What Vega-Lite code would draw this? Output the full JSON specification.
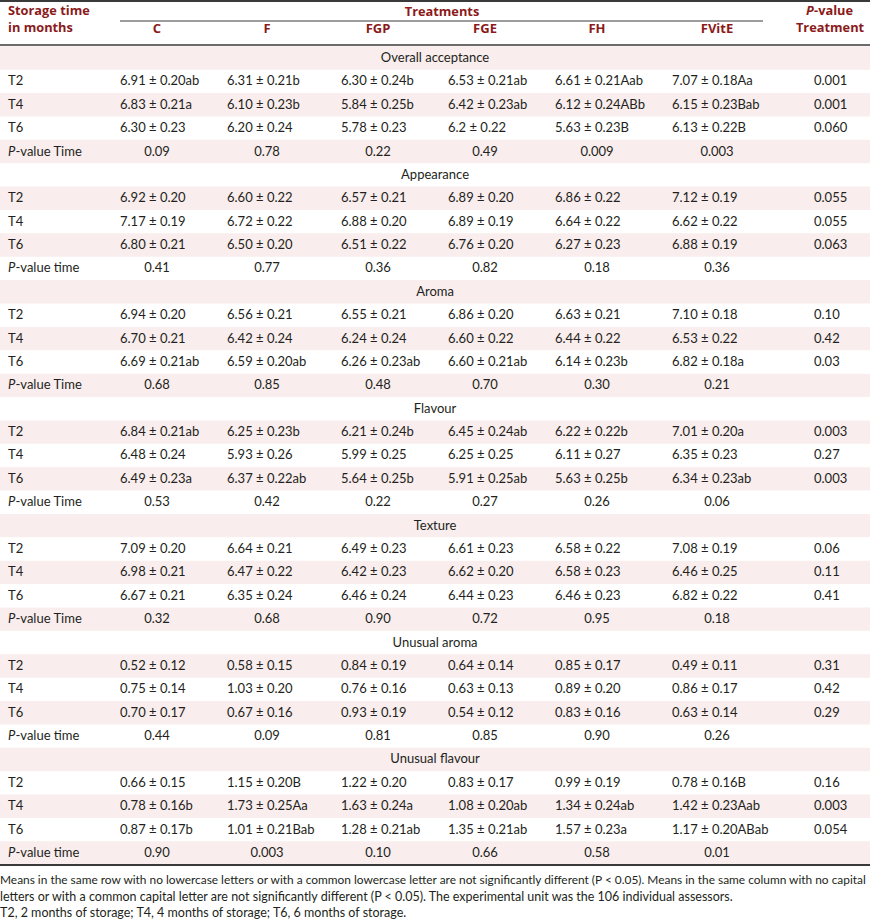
{
  "$schema": "https://vega.github.io/schema/vega-lite/v6.json",
  "width": 870,
  "height": 923,
  "padding": 0,
  "autosize": {"type": "none"},
  "background": "white",
  "config": {"view": {"stroke": null}, "text": {"font": "Lato", "fontSize": 13, "color": "#231f20"}},
  "datasets": {
    "cols": [{"key": "C", "ci": 2}, {"key": "F", "ci": 3}, {"key": "FGP", "ci": 4}, {"key": "FGE", "ci": 5}, {"key": "FH", "ci": 6}, {"key": "FVitE", "ci": 7}, {"key": "PT", "ci": 8}],
    "head": [{"ci": 2, "t": "C"}, {"ci": 3, "t": "F"}, {"ci": 4, "t": "FGP"}, {"ci": 5, "t": "FGE"}, {"ci": 6, "t": "FH"}, {"ci": 7, "t": "FVitE"}],
    "tbl": [
      {"r": 0, "kind": "s", "label": "Overall acceptance"},
      {"r": 1, "kind": "t", "label": "T2", "C": "6.91 ± 0.20ab", "F": "6.31 ± 0.21b", "FGP": "6.30 ± 0.24b", "FGE": "6.53 ± 0.21ab", "FH": "6.61 ± 0.21Aab", "FVitE": "7.07 ± 0.18Aa", "PT": "0.001"},
      {"r": 2, "kind": "t", "label": "T4", "C": "6.83 ± 0.21a", "F": "6.10 ± 0.23b", "FGP": "5.84 ± 0.25b", "FGE": "6.42 ± 0.23ab", "FH": "6.12 ± 0.24ABb", "FVitE": "6.15 ± 0.23Bab", "PT": "0.001"},
      {"r": 3, "kind": "t", "label": "T6", "C": "6.30 ± 0.23", "F": "6.20 ± 0.24", "FGP": "5.78 ± 0.23", "FGE": "6.2 ± 0.22", "FH": "5.63 ± 0.23B", "FVitE": "6.13 ± 0.22B", "PT": "0.060"},
      {"r": 4, "kind": "p", "label": "-value Time", "C": "0.09", "F": "0.78", "FGP": "0.22", "FGE": "0.49", "FH": "0.009", "FVitE": "0.003"},
      {"r": 5, "kind": "s", "label": "Appearance"},
      {"r": 6, "kind": "t", "label": "T2", "C": "6.92 ± 0.20", "F": "6.60 ± 0.22", "FGP": "6.57 ± 0.21", "FGE": "6.89 ± 0.20", "FH": "6.86 ± 0.22", "FVitE": "7.12 ± 0.19", "PT": "0.055"},
      {"r": 7, "kind": "t", "label": "T4", "C": "7.17 ± 0.19", "F": "6.72 ± 0.22", "FGP": "6.88 ± 0.20", "FGE": "6.89 ± 0.19", "FH": "6.64 ± 0.22", "FVitE": "6.62 ± 0.22", "PT": "0.055"},
      {"r": 8, "kind": "t", "label": "T6", "C": "6.80 ± 0.21", "F": "6.50 ± 0.20", "FGP": "6.51 ± 0.22", "FGE": "6.76 ± 0.20", "FH": "6.27 ± 0.23", "FVitE": "6.88 ± 0.19", "PT": "0.063"},
      {"r": 9, "kind": "p", "label": "-value time", "C": "0.41", "F": "0.77", "FGP": "0.36", "FGE": "0.82", "FH": "0.18", "FVitE": "0.36"},
      {"r": 10, "kind": "s", "label": "Aroma"},
      {"r": 11, "kind": "t", "label": "T2", "C": "6.94 ± 0.20", "F": "6.56 ± 0.21", "FGP": "6.55 ± 0.21", "FGE": "6.86 ± 0.20", "FH": "6.63 ± 0.21", "FVitE": "7.10 ± 0.18", "PT": "0.10"},
      {"r": 12, "kind": "t", "label": "T4", "C": "6.70 ± 0.21", "F": "6.42 ± 0.24", "FGP": "6.24 ± 0.24", "FGE": "6.60 ± 0.22", "FH": "6.44 ± 0.22", "FVitE": "6.53 ± 0.22", "PT": "0.42"},
      {"r": 13, "kind": "t", "label": "T6", "C": "6.69 ± 0.21ab", "F": "6.59 ± 0.20ab", "FGP": "6.26 ± 0.23ab", "FGE": "6.60 ± 0.21ab", "FH": "6.14 ± 0.23b", "FVitE": "6.82 ± 0.18a", "PT": "0.03"},
      {"r": 14, "kind": "p", "label": "-value Time", "C": "0.68", "F": "0.85", "FGP": "0.48", "FGE": "0.70", "FH": "0.30", "FVitE": "0.21"},
      {"r": 15, "kind": "s", "label": "Flavour"},
      {"r": 16, "kind": "t", "label": "T2", "C": "6.84 ± 0.21ab", "F": "6.25 ± 0.23b", "FGP": "6.21 ± 0.24b", "FGE": "6.45 ± 0.24ab", "FH": "6.22 ± 0.22b", "FVitE": "7.01 ± 0.20a", "PT": "0.003"},
      {"r": 17, "kind": "t", "label": "T4", "C": "6.48 ± 0.24", "F": "5.93 ± 0.26", "FGP": "5.99 ± 0.25", "FGE": "6.25 ± 0.25", "FH": "6.11 ± 0.27", "FVitE": "6.35 ± 0.23", "PT": "0.27"},
      {"r": 18, "kind": "t", "label": "T6", "C": "6.49 ± 0.23a", "F": "6.37 ± 0.22ab", "FGP": "5.64 ± 0.25b", "FGE": "5.91 ± 0.25ab", "FH": "5.63 ± 0.25b", "FVitE": "6.34 ± 0.23ab", "PT": "0.003"},
      {"r": 19, "kind": "p", "label": "-value Time", "C": "0.53", "F": "0.42", "FGP": "0.22", "FGE": "0.27", "FH": "0.26", "FVitE": "0.06"},
      {"r": 20, "kind": "s", "label": "Texture"},
      {"r": 21, "kind": "t", "label": "T2", "C": "7.09 ± 0.20", "F": "6.64 ± 0.21", "FGP": "6.49 ± 0.23", "FGE": "6.61 ± 0.23", "FH": "6.58 ± 0.22", "FVitE": "7.08 ± 0.19", "PT": "0.06"},
      {"r": 22, "kind": "t", "label": "T4", "C": "6.98 ± 0.21", "F": "6.47 ± 0.22", "FGP": "6.42 ± 0.23", "FGE": "6.62 ± 0.20", "FH": "6.58 ± 0.23", "FVitE": "6.46 ± 0.25", "PT": "0.11"},
      {"r": 23, "kind": "t", "label": "T6", "C": "6.67 ± 0.21", "F": "6.35 ± 0.24", "FGP": "6.46 ± 0.24", "FGE": "6.44 ± 0.23", "FH": "6.46 ± 0.23", "FVitE": "6.82 ± 0.22", "PT": "0.41"},
      {"r": 24, "kind": "p", "label": "-value Time", "C": "0.32", "F": "0.68", "FGP": "0.90", "FGE": "0.72", "FH": "0.95", "FVitE": "0.18"},
      {"r": 25, "kind": "s", "label": "Unusual aroma"},
      {"r": 26, "kind": "t", "label": "T2", "C": "0.52 ± 0.12", "F": "0.58 ± 0.15", "FGP": "0.84 ± 0.19", "FGE": "0.64 ± 0.14", "FH": "0.85 ± 0.17", "FVitE": "0.49 ± 0.11", "PT": "0.31"},
      {"r": 27, "kind": "t", "label": "T4", "C": "0.75 ± 0.14", "F": "1.03 ± 0.20", "FGP": "0.76 ± 0.16", "FGE": "0.63 ± 0.13", "FH": "0.89 ± 0.20", "FVitE": "0.86 ± 0.17", "PT": "0.42"},
      {"r": 28, "kind": "t", "label": "T6", "C": "0.70 ± 0.17", "F": "0.67 ± 0.16", "FGP": "0.93 ± 0.19", "FGE": "0.54 ± 0.12", "FH": "0.83 ± 0.16", "FVitE": "0.63 ± 0.14", "PT": "0.29"},
      {"r": 29, "kind": "p", "label": "-value time", "C": "0.44", "F": "0.09", "FGP": "0.81", "FGE": "0.85", "FH": "0.90", "FVitE": "0.26"},
      {"r": 30, "kind": "s", "label": "Unusual flavour"},
      {"r": 31, "kind": "t", "label": "T2", "C": "0.66 ± 0.15", "F": "1.15 ± 0.20B", "FGP": "1.22 ± 0.20", "FGE": "0.83 ± 0.17", "FH": "0.99 ± 0.19", "FVitE": "0.78 ± 0.16B", "PT": "0.16"},
      {"r": 32, "kind": "t", "label": "T4", "C": "0.78 ± 0.16b", "F": "1.73 ± 0.25Aa", "FGP": "1.63 ± 0.24a", "FGE": "1.08 ± 0.20ab", "FH": "1.34 ± 0.24ab", "FVitE": "1.42 ± 0.23Aab", "PT": "0.003"},
      {"r": 33, "kind": "t", "label": "T6", "C": "0.87 ± 0.17b", "F": "1.01 ± 0.21Bab", "FGP": "1.28 ± 0.21ab", "FGE": "1.35 ± 0.21ab", "FH": "1.57 ± 0.23a", "FVitE": "1.17 ± 0.20ABab", "PT": "0.054"},
      {"r": 34, "kind": "p", "label": "-value time", "C": "0.90", "F": "0.003", "FGP": "0.10", "FGE": "0.66", "FH": "0.58", "FVitE": "0.01"}
    ],
    "notes": [
      {"n": 1, "line": 35.155, "t": "Means in the same row with no lowercase letters or with a common lowercase letter are not significantly different (P < 0.05). Means in the same column with no capital"},
      {"n": 2, "line": 35.882, "t": "letters or with a common capital letter are not significantly different (P < 0.05). The experimental unit was the 106 individual assessors."},
      {"n": 3, "line": 36.566, "t": "T2, 2 months of storage; T4, 4 months of storage; T6, 6 months of storage."}
    ]
  },
  "resolve": {"scale": {"x": "independent"}},
  "layer": [
    {
      "data": {"name": "tbl"},
      "transform": [{"filter": "datum.r % 2 == 0"}],
      "mark": {"type": "rule", "color": "#f9eded", "strokeWidth": 23.4, "strokeCap": "butt"},
      "encoding": {
        "y": {"field": "r", "type": "quantitative", "axis": null, "scale": {"domain": [-2.4805, 36.994], "nice": false, "zero": false, "reverse": true}},
        "x": {"datum": 0, "type": "quantitative", "axis": null, "scale": {"domain": [0, 1, 2, 3, 4, 5, 6, 7, 8, 9], "range": [0, 8, 120, 227, 341, 448, 555, 672, 814, 870], "nice": false, "zero": false}},
        "x2": {"datum": 9}
      }
    },
    {
      "data": {"values": [{"y": -2.44, "a": 0, "b": 9, "w": 2}, {"y": -0.556, "a": 0, "b": 9, "w": 1.4}, {"y": 34.514, "a": 0, "b": 9, "w": 2}, {"y": -1.582, "a": 2, "b": 7.641, "w": 1}]},
      "mark": {"type": "rule", "color": "#3a3a3a"},
      "encoding": {
        "y": {"field": "y", "type": "quantitative", "axis": null, "scale": {"domain": [-2.4805, 36.994], "nice": false, "zero": false, "reverse": true}},
        "x": {"field": "a", "type": "quantitative", "axis": null, "scale": {"domain": [0, 1, 2, 3, 4, 5, 6, 7, 8, 9], "range": [0, 8, 120, 227, 341, 448, 555, 672, 814, 870], "nice": false, "zero": false}},
        "x2": {"field": "b"},
        "strokeWidth": {"field": "w", "type": "quantitative", "scale": null, "legend": null}
      }
    },
    {
      "data": {"name": "tbl"},
      "transform": [{"filter": "datum.kind == 't'"}],
      "mark": {"type": "text", "align": "left"},
      "encoding": {
        "y": {"field": "r", "type": "quantitative", "axis": null, "scale": {"domain": [-2.4805, 36.994], "nice": false, "zero": false, "reverse": true}},
        "x": {"datum": 1, "type": "quantitative", "axis": null, "scale": {"domain": [0, 1, 2, 3, 4, 5, 6, 7, 8, 9], "range": [0, 8, 120, 227, 341, 448, 555, 672, 814, 870], "nice": false, "zero": false}},
        "text": {"field": "label"}
      }
    },
    {
      "data": {"name": "tbl"},
      "transform": [{"filter": "datum.kind == 'p'"}],
      "mark": {"type": "text", "align": "left", "fontStyle": "italic"},
      "encoding": {
        "y": {"field": "r", "type": "quantitative", "axis": null, "scale": {"domain": [-2.4805, 36.994], "nice": false, "zero": false, "reverse": true}},
        "x": {"datum": 1, "type": "quantitative", "axis": null, "scale": {"domain": [0, 1, 2, 3, 4, 5, 6, 7, 8, 9], "range": [0, 8, 120, 227, 341, 448, 555, 672, 814, 870], "nice": false, "zero": false}},
        "text": {"value": "P"}
      }
    },
    {
      "data": {"name": "tbl"},
      "transform": [{"filter": "datum.kind == 'p'"}],
      "mark": {"type": "text", "align": "left", "dx": 7.5},
      "encoding": {
        "y": {"field": "r", "type": "quantitative", "axis": null, "scale": {"domain": [-2.4805, 36.994], "nice": false, "zero": false, "reverse": true}},
        "x": {"datum": 1, "type": "quantitative", "axis": null, "scale": {"domain": [0, 1, 2, 3, 4, 5, 6, 7, 8, 9], "range": [0, 8, 120, 227, 341, 448, 555, 672, 814, 870], "nice": false, "zero": false}},
        "text": {"field": "label"}
      }
    },
    {
      "data": {"name": "tbl"},
      "transform": [{"filter": "datum.kind == 's'"}],
      "mark": {"type": "text", "align": "center"},
      "encoding": {
        "y": {"field": "r", "type": "quantitative", "axis": null, "scale": {"domain": [-2.4805, 36.994], "nice": false, "zero": false, "reverse": true}},
        "x": {"datum": 4.879, "type": "quantitative", "axis": null, "scale": {"domain": [0, 1, 2, 3, 4, 5, 6, 7, 8, 9], "range": [0, 8, 120, 227, 341, 448, 555, 672, 814, 870], "nice": false, "zero": false}},
        "text": {"field": "label"}
      }
    },
    {
      "data": {"name": "tbl"},
      "transform": [
        {"filter": "datum.kind == 't'"},
        {"fold": ["C", "F", "FGP", "FGE", "FH", "FVitE", "PT"], "as": ["key", "t"]},
        {"filter": "isValid(datum.t)"},
        {"lookup": "key", "from": {"data": {"name": "cols"}, "key": "key", "fields": ["ci"]}}
      ],
      "mark": {"type": "text", "align": "left"},
      "encoding": {
        "y": {"field": "r", "type": "quantitative", "axis": null, "scale": {"domain": [-2.4805, 36.994], "nice": false, "zero": false, "reverse": true}},
        "x": {"field": "ci", "type": "quantitative", "axis": null, "scale": {"domain": [0, 1, 2, 3, 4, 5, 6, 7, 8, 9], "range": [0, 8, 120, 227, 341, 448, 555, 672, 814, 870], "nice": false, "zero": false}},
        "text": {"field": "t"}
      }
    },
    {
      "data": {"name": "tbl"},
      "transform": [
        {"filter": "datum.kind == 'p'"},
        {"fold": ["C", "F", "FGP", "FGE", "FH", "FVitE"], "as": ["key", "t"]},
        {"filter": "isValid(datum.t)"},
        {"lookup": "key", "from": {"data": {"name": "cols"}, "key": "key", "fields": ["ci"]}}
      ],
      "mark": {"type": "text", "align": "center"},
      "encoding": {
        "y": {"field": "r", "type": "quantitative", "axis": null, "scale": {"domain": [-2.4805, 36.994], "nice": false, "zero": false, "reverse": true}},
        "x": {"field": "ci", "type": "quantitative", "axis": null, "scale": {"domain": [2, 3, 4, 5, 6, 7], "range": [157, 267, 378, 485, 597, 717], "nice": false, "zero": false}},
        "text": {"field": "t"}
      }
    },
    {
      "data": {"name": "head"},
      "mark": {"type": "text", "align": "center", "font": "Open Sans", "fontWeight": "bold", "fontSize": 13, "color": "#8b1a1a"},
      "encoding": {
        "y": {"datum": -1.24, "type": "quantitative", "axis": null, "scale": {"domain": [-2.4805, 36.994], "nice": false, "zero": false, "reverse": true}},
        "x": {"field": "ci", "type": "quantitative", "axis": null, "scale": {"domain": [2, 3, 4, 5, 6, 7], "range": [157, 267, 378, 485, 597, 717], "nice": false, "zero": false}},
        "text": {"field": "t"}
      }
    },
    {
      "data": {"values": [
        {"t": "Storage time", "px": 1, "py": -2.0, "al": "l"},
        {"t": "in months", "px": 1, "py": -1.262, "al": "l"},
        {"t": "Treatments", "px": 4.944, "py": -1.967, "al": "c"},
        {"t": "Treatment", "px": 8.286, "py": -1.262, "al": "c"},
        {"t": "-value", "px": 7.944, "py": -2.0, "al": "v"},
        {"t": "P", "px": 7.944, "py": -2.0, "al": "p"}
      ]},
      "layer": [
        {
          "transform": [{"filter": "datum.al == 'l'"}],
          "mark": {"type": "text", "align": "left", "font": "Open Sans", "fontWeight": "bold", "fontSize": 12.8, "color": "#8b1a1a"},
          "encoding": {
            "y": {"field": "py", "type": "quantitative", "axis": null, "scale": {"domain": [-2.4805, 36.994], "nice": false, "zero": false, "reverse": true}},
            "x": {"field": "px", "type": "quantitative", "axis": null, "scale": {"domain": [0, 1, 2, 3, 4, 5, 6, 7, 8, 9], "range": [0, 8, 120, 227, 341, 448, 555, 672, 814, 870], "nice": false, "zero": false}},
            "text": {"field": "t"}
          }
        },
        {
          "transform": [{"filter": "datum.al == 'c'"}],
          "mark": {"type": "text", "align": "center", "font": "Open Sans", "fontWeight": "bold", "fontSize": 12.8, "color": "#8b1a1a"},
          "encoding": {
            "y": {"field": "py", "type": "quantitative", "axis": null, "scale": {"domain": [-2.4805, 36.994], "nice": false, "zero": false, "reverse": true}},
            "x": {"field": "px", "type": "quantitative", "axis": null, "scale": {"domain": [0, 1, 2, 3, 4, 5, 6, 7, 8, 9], "range": [0, 8, 120, 227, 341, 448, 555, 672, 814, 870], "nice": false, "zero": false}},
            "text": {"field": "t"}
          }
        },
        {
          "transform": [{"filter": "datum.al == 'p'"}],
          "mark": {"type": "text", "align": "left", "font": "Open Sans", "fontWeight": "bold", "fontStyle": "italic", "fontSize": 12.8, "color": "#8b1a1a"},
          "encoding": {
            "y": {"field": "py", "type": "quantitative", "axis": null, "scale": {"domain": [-2.4805, 36.994], "nice": false, "zero": false, "reverse": true}},
            "x": {"field": "px", "type": "quantitative", "axis": null, "scale": {"domain": [0, 1, 2, 3, 4, 5, 6, 7, 8, 9], "range": [0, 8, 120, 227, 341, 448, 555, 672, 814, 870], "nice": false, "zero": false}},
            "text": {"field": "t"}
          }
        },
        {
          "transform": [{"filter": "datum.al == 'v'"}],
          "mark": {"type": "text", "align": "left", "dx": 8, "font": "Open Sans", "fontWeight": "bold", "fontSize": 12.8, "color": "#8b1a1a"},
          "encoding": {
            "y": {"field": "py", "type": "quantitative", "axis": null, "scale": {"domain": [-2.4805, 36.994], "nice": false, "zero": false, "reverse": true}},
            "x": {"field": "px", "type": "quantitative", "axis": null, "scale": {"domain": [0, 1, 2, 3, 4, 5, 6, 7, 8, 9], "range": [0, 8, 120, 227, 341, 448, 555, 672, 814, 870], "nice": false, "zero": false}},
            "text": {"field": "t"}
          }
        }
      ]
    },
    {
      "data": {"name": "notes"},
      "transform": [{"filter": "datum.n == 1"}],
      "mark": {"type": "text", "align": "left", "fontSize": 11.9},
      "encoding": {
        "y": {"field": "line", "type": "quantitative", "axis": null, "scale": {"domain": [-2.4805, 36.994], "nice": false, "zero": false, "reverse": true}},
        "x": {"datum": 0, "type": "quantitative", "axis": null, "scale": {"domain": [0, 1, 2, 3, 4, 5, 6, 7, 8, 9], "range": [0, 8, 120, 227, 341, 448, 555, 672, 814, 870], "nice": false, "zero": false}},
        "text": {"field": "t"}
      }
    },
    {
      "data": {"name": "notes"},
      "transform": [{"filter": "datum.n > 1"}],
      "mark": {"type": "text", "align": "left", "fontSize": 12.5},
      "encoding": {
        "y": {"field": "line", "type": "quantitative", "axis": null, "scale": {"domain": [-2.4805, 36.994], "nice": false, "zero": false, "reverse": true}},
        "x": {"datum": 0, "type": "quantitative", "axis": null, "scale": {"domain": [0, 1, 2, 3, 4, 5, 6, 7, 8, 9], "range": [0, 8, 120, 227, 341, 448, 555, 672, 814, 870], "nice": false, "zero": false}},
        "text": {"field": "t"}
      }
    }
  ]
}
